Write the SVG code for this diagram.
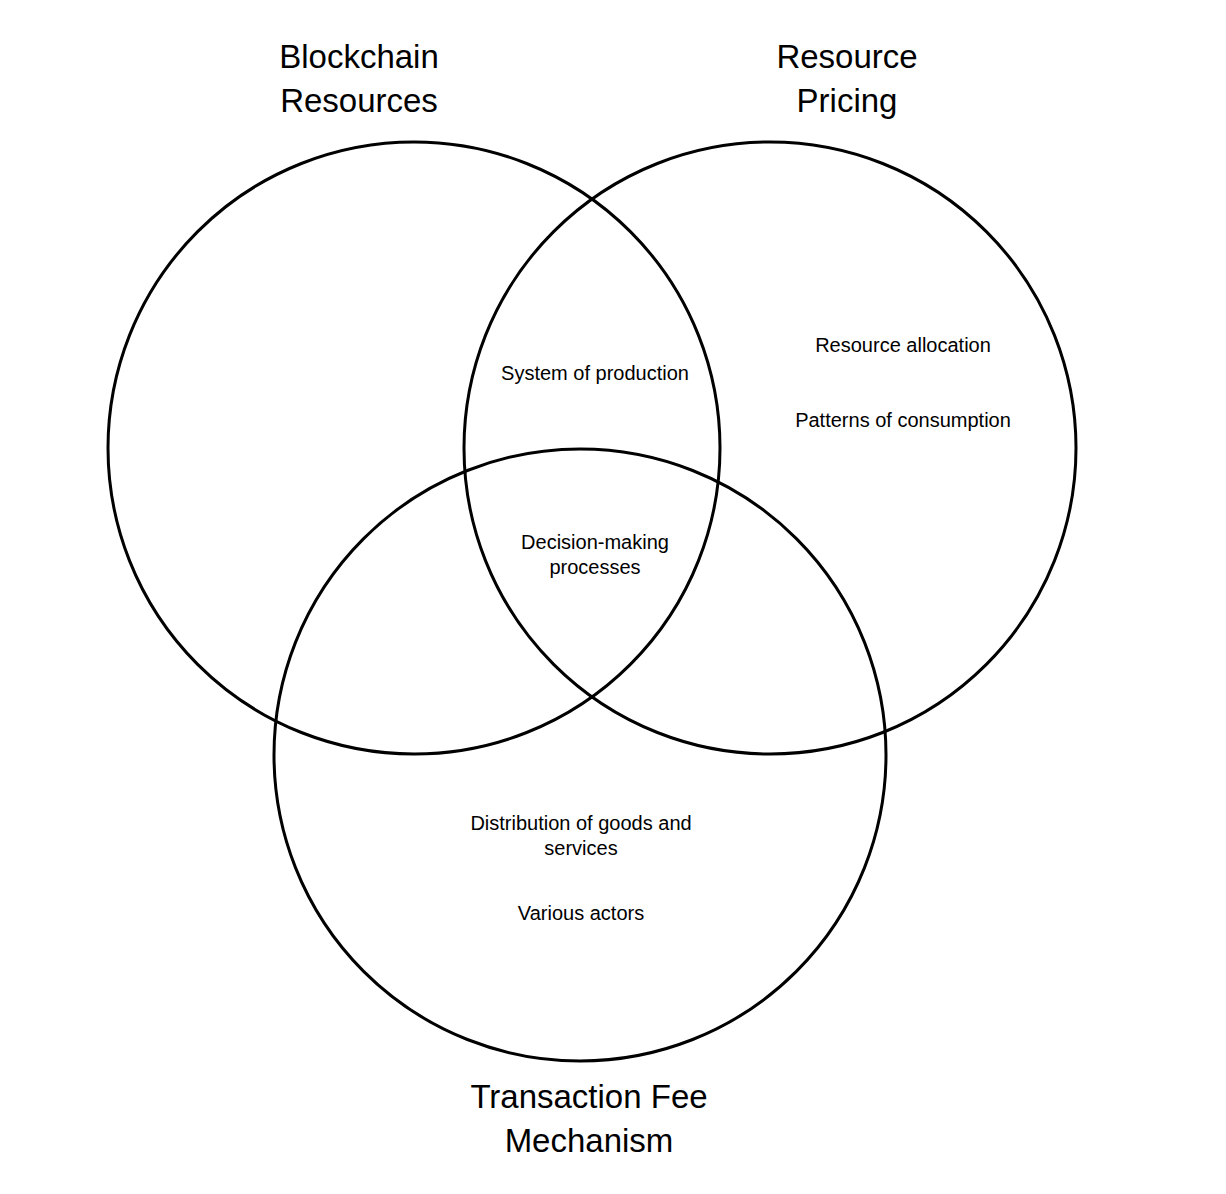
<svg xmlns="http://www.w3.org/2000/svg" width="1226" height="1194" viewBox="0 0 1226 1194">
<style>
.c{fill:none;stroke:#000;stroke-width:3}
.t{font-family:"Liberation Sans",Arial,sans-serif;font-size:33px;text-anchor:middle;fill:#000}
.s{font-family:"Liberation Sans",Arial,sans-serif;font-size:20px;text-anchor:middle;fill:#000}
</style>
<rect width="1226" height="1194" fill="#fff"/>
<g id="blockchain-resources">
<circle class="c" cx="414" cy="448" r="306"/>
<text class="t" x="359" y="68">Blockchain</text>
<text class="t" x="359" y="112">Resources</text>
</g>
<g id="resource-pricing">
<circle class="c" cx="770" cy="448" r="306"/>
<text class="t" x="847" y="68">Resource</text>
<text class="t" x="847" y="112">Pricing</text>
<text class="s" x="903" y="352">Resource allocation</text>
<text class="s" x="903" y="427">Patterns of consumption</text>
</g>
<g id="transaction-fee-mechanism">
<circle class="c" cx="580" cy="755" r="306"/>
<text class="t" x="589" y="1108">Transaction Fee</text>
<text class="t" x="589" y="1152">Mechanism</text>
<text class="s" x="581" y="830">Distribution of goods and</text>
<text class="s" x="581" y="855">services</text>
<text class="s" x="581" y="920">Various actors</text>
</g>
<g id="overlaps">
<text class="s" x="595" y="380">System of production</text>
<text class="s" x="595" y="549">Decision-making</text>
<text class="s" x="595" y="574">processes</text>
</g>
<g id="connectors"/>
</svg>
